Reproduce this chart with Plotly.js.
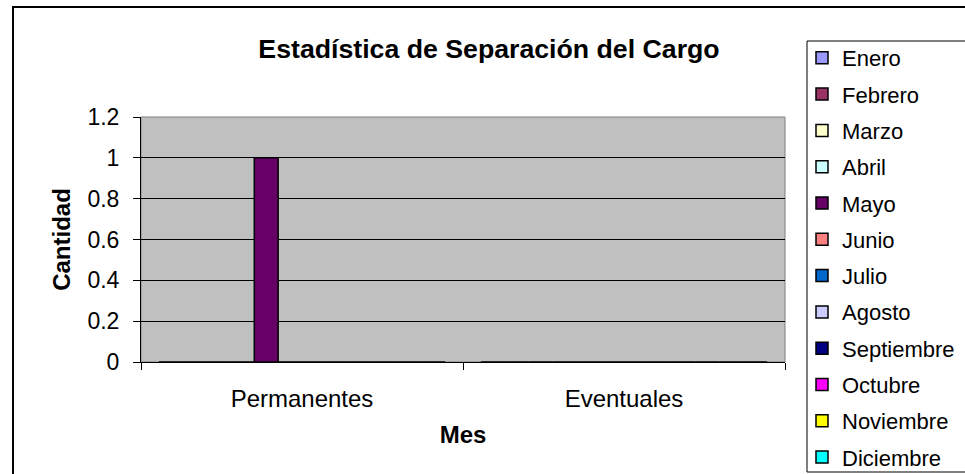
<!DOCTYPE html>
<html><head><meta charset="utf-8">
<script src="https://cdn.plot.ly/plotly-3.0.1.min.js"></script>
<style>html,body{margin:0;padding:0;background:#fff}</style>
</head><body><div id="chart" style="width:965px;height:474px"></div>
<script>
// ---- data ----
const categories = ['Permanentes', 'Eventuales'];
const months = ['Enero','Febrero','Marzo','Abril','Mayo','Junio','Julio','Agosto','Septiembre','Octubre','Noviembre','Diciembre'];
const enero      = [0, 0];
const febrero    = [0, 0];
const marzo      = [0, 0];
const abril      = [0, 0];
const mayo       = [1, 0];
const junio      = [0, 0];
const julio      = [0, 0];
const agosto     = [0, 0];
const septiembre = [0, 0];
const octubre    = [0, 0];
const noviembre  = [0, 0];
const diciembre  = [0, 0];
const seriesValues = [enero,febrero,marzo,abril,mayo,junio,julio,agosto,septiembre,octubre,noviembre,diciembre];
const yTicks = [0, 0.2, 0.4, 0.6, 0.8, 1, 1.2];

// ---- style ----
const colors = ['#9999FF','#993366','#FFFFCC','#CCFFFF','#660066','#FF8080','#0066CC','#CCCCFF','#000080','#FF00FF','#FFFF00','#00FFFF'];
const FONT = '"Liberation Sans", Arial, sans-serif';
const W = 965, H = 474, L = 141, R = 180, T = 117, B = 112;
const px2x = p => (p - L) / (W - L - R);
const py2y = p => (H - B - p) / (H - T - B);

const traces = months.map((m, i) => ({
  type: 'bar', name: m, x: categories, y: seriesValues[i],
  legendgroup: 'g' + i,
  marker: {color: colors[i], line: {color: '#000', width: 1.5}},
  hoverinfo: 'name+y'
}));

const layout = {
  width: W, height: H,
  margin: {l: L, r: R, t: T, b: B, pad: 0, autoexpand: false},
  paper_bgcolor: '#fff', plot_bgcolor: '#C0C0C0',
  font: {family: FONT, color: '#000', size: 22},
  barmode: 'group', bargap: 0.111, bargroupgap: 0,
  title: {text: '<b>Estadística de Separación del Cargo</b>', font: {family: FONT, size: 26.7, color: '#000'},
          xref: 'container', yref: 'container', x: 489 / W, y: 1 - 49 / H, xanchor: 'center', yanchor: 'middle'},
  xaxis: {
    type: 'category', showline: true, linecolor: '#000', linewidth: 1,
    ticks: 'outside', tickson: 'boundaries', ticklen: 7, tickcolor: '#000', tickwidth: 1,
    showgrid: false, zeroline: false, automargin: false,
    tickfont: {family: FONT, size: 24, color: '#000'}, ticklabelstandoff: 15,
    title: {text: '<b>Mes</b>', font: {family: FONT, size: 24, color: '#000'}, standoff: 15}
  },
  yaxis: {
    range: [0, 1.2], tickvals: yTicks, showline: true, linecolor: '#000', linewidth: 1,
    ticks: 'outside', ticklen: 7, tickcolor: '#000', tickwidth: 1,
    showgrid: true, gridcolor: '#000', gridwidth: 1, zeroline: false, automargin: false,
    tickfont: {family: FONT, size: 23, color: '#000'}, ticklabelstandoff: 9,
    title: {text: '<b>Cantidad</b>', font: {family: FONT, size: 24, color: '#000'}, standoff: 10}
  },
  showlegend: true,
  legend: {
    x: px2x(802), y: py2y(37), xanchor: 'left', yanchor: 'top', xref: 'paper', yref: 'paper',
    orientation: 'v', traceorder: 'grouped', tracegroupgap: 4.7, maxheight: 470,
    font: {family: FONT, size: 22, color: '#000'},
    bgcolor: 'rgba(0,0,0,0)', borderwidth: 0
  },
  shapes: [
    {type: 'rect', xref: 'paper', yref: 'paper', x0: 0, x1: 1, y0: 0, y1: 1,
     line: {color: '#808080', width: 1}, fillcolor: 'rgba(0,0,0,0)', layer: 'below'},
    {type: 'rect', xref: 'paper', yref: 'paper', x0: px2x(13), x1: px2x(1100), y0: py2y(7), y1: py2y(600),
     line: {color: '#000', width: 2}, fillcolor: 'rgba(0,0,0,0)'},
    {type: 'rect', xref: 'paper', yref: 'paper', x0: px2x(807), x1: px2x(1100), y0: py2y(41), y1: py2y(472),
     line: {color: '#000', width: 1}, fillcolor: 'rgba(0,0,0,0)'}
  ]
};

Plotly.newPlot('chart', traces, layout, {displayModeBar: false, staticPlot: true});
</script></body></html>
